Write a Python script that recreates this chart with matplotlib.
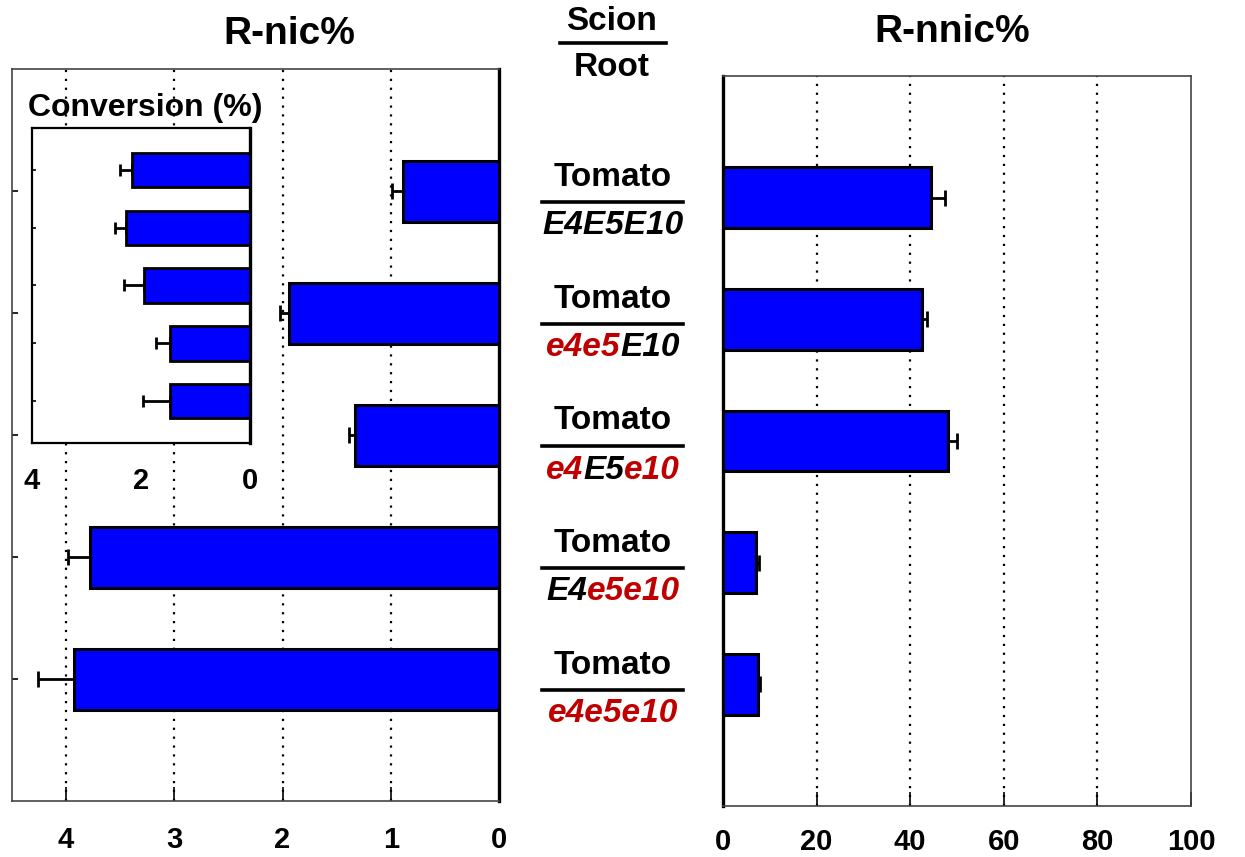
import matplotlib
matplotlib.use("Agg")
import matplotlib.pyplot as plt
from matplotlib.lines import Line2D

plt.rcParams['font.family'] = ['Liberation Sans', 'DejaVu Sans']
plt.rcParams['font.weight'] = 'bold'

# 数据 (从上到下)
scion = ["Tomato"] * 5
roots = [
    [("E4E5E10", "k")],
    [("e4e5", "r"), ("E10", "k")],
    [("e4", "r"), ("E5", "k"), ("e10", "r")],
    [("E4", "k"), ("e5e10", "r")],
    [("e4e5e10", "r")],
]
r_nic = [0.89, 1.94, 1.33, 3.78, 3.93]
r_nic_err = [0.10, 0.08, 0.06, 0.20, 0.33]
r_nnic = [44.4, 42.5, 48.1, 7.0, 7.5]
r_nnic_err = [3.0, 1.1, 2.0, 0.7, 0.4]
conversion = [2.16, 2.27, 1.95, 1.47, 1.47]
conversion_err = [0.22, 0.20, 0.37, 0.25, 0.50]

BLUE = "#0000FF"
RED = "#C00000"
W, H = 1245, 857
pos = list(range(1, len(r_nic) + 1))


def style_axes(ax, thick_side):
    for side, sp in ax.spines.items():
        if side == thick_side:
            sp.set_linewidth(2.4)
            sp.set_color("black")
        else:
            sp.set_linewidth(1.2)
            sp.set_color("#444444")


fig = plt.figure(figsize=(W / 100, H / 100), dpi=100)

# 左图 R-nic%
ax_l = fig.add_axes([12 / W, 1 - 801 / H, 487 / W, 732 / H])
ax_l.barh(pos, r_nic, height=0.5, color=BLUE, edgecolor="black", linewidth=2.2,
          xerr=[[0] * 5, r_nic_err],
          error_kw=dict(ecolor="black", elinewidth=2, capsize=6, capthick=2), zorder=3)
ax_l.set_xlim(4.5, 0)
ax_l.set_ylim(6, 0)
ax_l.set_xticks([4, 3, 2, 1, 0])
ax_l.set_yticks(pos)
ax_l.set_yticklabels([])
for g in [4, 3, 2, 1]:
    ax_l.axvline(g, color="black", linestyle=(0, (1, 3)), linewidth=1.6, zorder=1)
ax_l.tick_params(axis="x", direction="in", length=10, width=1.2, pad=18, labelsize=21)
ax_l.tick_params(axis="y", direction="in", length=4, width=1.2, left=True)
style_axes(ax_l, "right")

# 右图 R-nnic%
ax_r = fig.add_axes([723 / W, 1 - 806 / H, 468 / W, 730 / H])
ax_r.barh(pos, r_nnic, height=0.5, color=BLUE, edgecolor="black", linewidth=2.2,
          xerr=[[0] * 5, r_nnic_err],
          error_kw=dict(ecolor="black", elinewidth=2, capsize=6, capthick=2), zorder=3)
ax_r.set_xlim(0, 100)
ax_r.set_ylim(6, 0)
ax_r.set_xticks([0, 20, 40, 60, 80, 100])
ax_r.set_yticks([])
for g in [20, 40, 60, 80]:
    ax_r.axvline(g, color="black", linestyle=(0, (1, 3)), linewidth=1.6, zorder=1)
ax_r.tick_params(axis="x", direction="in", length=10, width=1.2, pad=16, labelsize=21)
style_axes(ax_r, "left")

# 插图 Conversion (%)
ax_i = fig.add_axes([32 / W, 1 - 443 / H, 218 / W, 315 / H])
ax_i.set_zorder(5)
ax_i.barh(pos, conversion, height=0.6, color=BLUE, edgecolor="black", linewidth=2,
          xerr=[[0] * 5, conversion_err],
          error_kw=dict(ecolor="black", elinewidth=2, capsize=4, capthick=2), zorder=3)
ax_i.set_xlim(4, 0)
ax_i.set_ylim(5.73, 0.27)
ax_i.set_xticks([4, 2, 0])
ax_i.set_yticks(pos)
ax_i.set_yticklabels([])
ax_i.tick_params(axis="x", direction="in", length=0, pad=17, labelsize=21)
ax_i.tick_params(axis="y", direction="in", length=3, width=1.2)
for side, sp in ax_i.spines.items():
    sp.set_color("black")
    sp.set_linewidth(2.4 if side == "right" else 1.6)
fig.text(145 / W, 1 - 108 / H, "Conversion (%)", ha="center", va="center", fontsize=23)

# 标题
fig.text(289 / W, 1 - 34 / H, "R-nic%", ha="center", va="center", fontsize=28)
fig.text(952 / W, 1 - 32 / H, "R-nnic%", ha="center", va="center", fontsize=28)

# Scion / Root
fig.text(612 / W, 1 - 21 / H, "Scion", ha="center", va="center", fontsize=24)
fig.text(612 / W, 1 - 68 / H, "Root", ha="center", va="center", fontsize=24)
fig.add_artist(Line2D([560 / W, 666 / W], [1 - 43 / H, 1 - 43 / H], color="black", linewidth=2.6))

# 每行的嫁接组合标签
renderer = fig.canvas.get_renderer()
cmap = {"k": "black", "r": RED}
for p, top, parts in zip(pos, scion, roots):
    yc = H - ax_l.transData.transform((0, p))[1]  # 像素, 从上往下
    fig.text(613 / W, 1 - (yc - 14) / H, top, ha="center", va="center", fontsize=24)
    fig.add_artist(Line2D([542 / W, 683 / W], [1 - (yc + 11) / H] * 2, color="black", linewidth=2.6))
    texts = [fig.text(0, 0, s, color=cmap[c], style="italic", fontsize=24, va="center")
             for s, c in parts]
    widths = [t.get_window_extent(renderer).width for t in texts]
    x = 613 - sum(widths) / 2
    for t, w in zip(texts, widths):
        t.set_position((x / W, 1 - (yc + 35) / H))
        x += w

fig.savefig("out.png", dpi=100)
